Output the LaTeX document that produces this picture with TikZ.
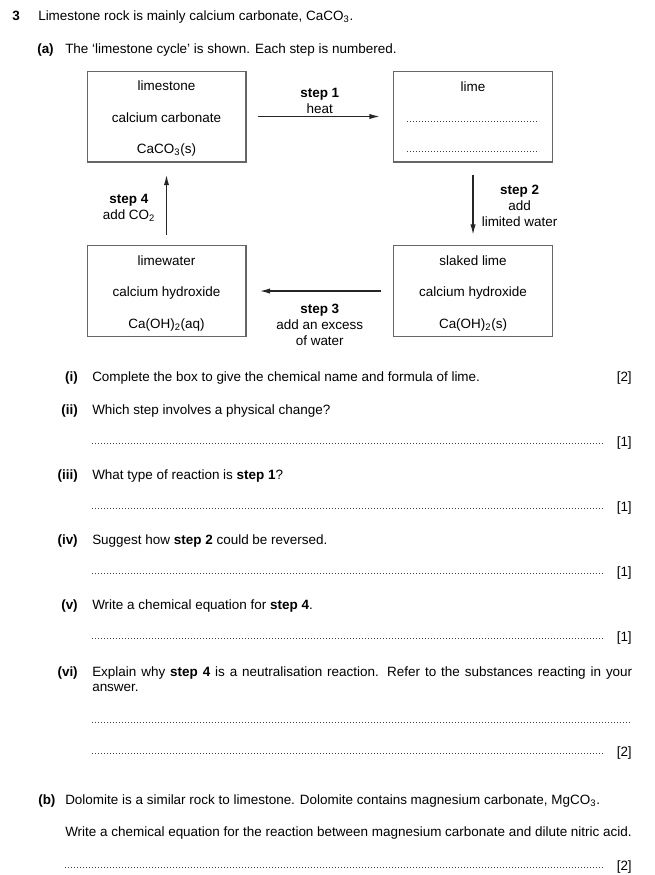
\documentclass[tikz,border=0pt]{standalone}
\usepackage{fontspec}
\setmainfont{Liberation Sans}
\usetikzlibrary{arrows, arrows.meta}
\tikzstyle{cyclebox} = [rectangle, draw=black!60, line width=1pt, minimum width=119pt, minimum height=68pt, inner sep=0pt, align=center]
\tikzstyle{arrow} = [line width=1.1pt, draw=black!85, ->, >={Latex[length=8pt, width=4pt]}]
\tikzstyle{steplabel} = [inner sep=0pt, align=center]
\tikzstyle{answer} = [draw=black!75, line width=0.7pt, dash pattern=on 0.6pt off 1.65pt]
\tikzstyle{txt} = [anchor=base west, inner sep=0pt]
\tikzstyle{part} = [anchor=base east, inner sep=0pt]
\tikzstyle{marks} = [anchor=base east, inner sep=0pt]
\newcommand{\gapline}{\\[11.6pt]}
\newcommand{\boxstrut}{\rule{0pt}{10.4pt}}

\begin{document}
\begin{tikzpicture}[x=0.75pt, y=-0.75pt, node distance=229.9pt, font=\fontsize{10.1}{12}\selectfont]
\useasboundingbox (0,0) rectangle (654,875);

\node (n3) [txt] at (12,20) {\textbf{3}};
\node (t3) [txt] at (38,20) {Limestone rock is mainly calcium carbonate, CaCO\textsubscript{3}.};
\node (na) [txt] at (37,53) {\textbf{(a)}};
\node (ta) [txt] at (65,53) {The `limestone cycle' is shown. Each step is numbered.};

% the cycle
\node (lst) [cyclebox] at (166.5,116.5) {\boxstrut limestone\gapline calcium carbonate\gapline CaCO\textsubscript{3}(s)};
\node (lime) [cyclebox, right of=lst] {\boxstrut lime\gapline ~\gapline ~};
\node (lmw) [cyclebox, below of=lst, yshift=99pt] {\boxstrut limewater\gapline calcium hydroxide\gapline Ca(OH)\textsubscript{2}(aq)};
\node (slk) [cyclebox, right of=lmw] {\boxstrut slaked lime\gapline calcium hydroxide\gapline Ca(OH)\textsubscript{2}(s)};

\draw [answer] (lime.center) ++(-66,4.5) -- ++(132,0);
\draw [answer] (lime.center) ++(-66,34.5) -- ++(132,0);

\draw [arrow, shorten <=8.25pt, shorten >=9.75pt] (lst) -- node (s1) [steplabel, above=1.5pt] {\textbf{step 1}\\heat} (lime);
\draw [arrow, shorten <=9pt, shorten >=7.5pt] (lime) -- node (s2) [steplabel, right=6pt, yshift=-1.5pt] {\textbf{step 2}\\add\\limited water} (slk);
\draw [arrow, shorten <=9pt, shorten >=9.75pt] (slk) -- node (s3) [steplabel, below=9pt] {\textbf{step 3}\\add an excess\\of water} (lmw);
\draw [arrow, shorten <=7.5pt, shorten >=9pt] (lmw) -- node (s4) [steplabel, left=8pt, yshift=-3pt] {\textbf{step 4}\\add CO\textsubscript{2}} (lst);

% questions
\node (ni) [part] at (78,381) {\textbf{(i)}};
\node (ti) [txt] at (92,381) {Complete the box to give the chemical name and formula of lime.};
\node (mi) [marks] at (632,381) {[2]};

\node (nii) [part] at (78,414) {\textbf{(ii)}};
\node (tii) [txt] at (92,414) {Which step involves a physical change?};
\draw [answer] (92,443) -- (604,443);
\node (mii) [marks] at (632,446) {[1]};

\node (niii) [part] at (78,479) {\textbf{(iii)}};
\node (tiii) [txt] at (92,479) {What type of reaction is \textbf{step 1}?};
\draw [answer] (92,508) -- (604,508);
\node (miii) [marks] at (632,511) {[1]};

\node (niv) [part] at (78,544) {\textbf{(iv)}};
\node (tiv) [txt] at (92,544) {Suggest how \textbf{step 2} could be reversed.};
\draw [answer] (92,573) -- (604,573);
\node (miv) [marks] at (632,576) {[1]};

\node (nv) [part] at (78,609) {\textbf{(v)}};
\node (tv) [txt] at (92,609) {Write a chemical equation for \textbf{step 4}.};
\draw [answer] (92,638) -- (604,638);
\node (mv) [marks] at (632,641) {[1]};

\node (nvi) [part] at (78,676) {\textbf{(vi)}};
\node (tvi) [txt] at (92,676) {\makebox[405pt][s]{Explain why \textbf{step 4} is a neutralisation reaction. Refer to the substances reacting in your}};
\node (tvi2) [txt] at (92,691) {answer.};
\draw [answer] (92,722) -- (631,722);
\draw [answer] (92,753) -- (604,753);
\node (mvi) [marks] at (632,756) {[2]};

\node (nb) [txt] at (38,804) {\textbf{(b)}};
\node (tb) [txt] at (65,804) {Dolomite is a similar rock to limestone. Dolomite contains magnesium carbonate, MgCO\textsubscript{3}.};
\node (tb2) [txt] at (65,836) {Write a chemical equation for the reaction between magnesium carbonate and dilute nitric acid.};
\draw [answer] (65,867) -- (604,867);
\node (mb) [marks] at (632,870) {[2]};
\end{tikzpicture}
\end{document}
